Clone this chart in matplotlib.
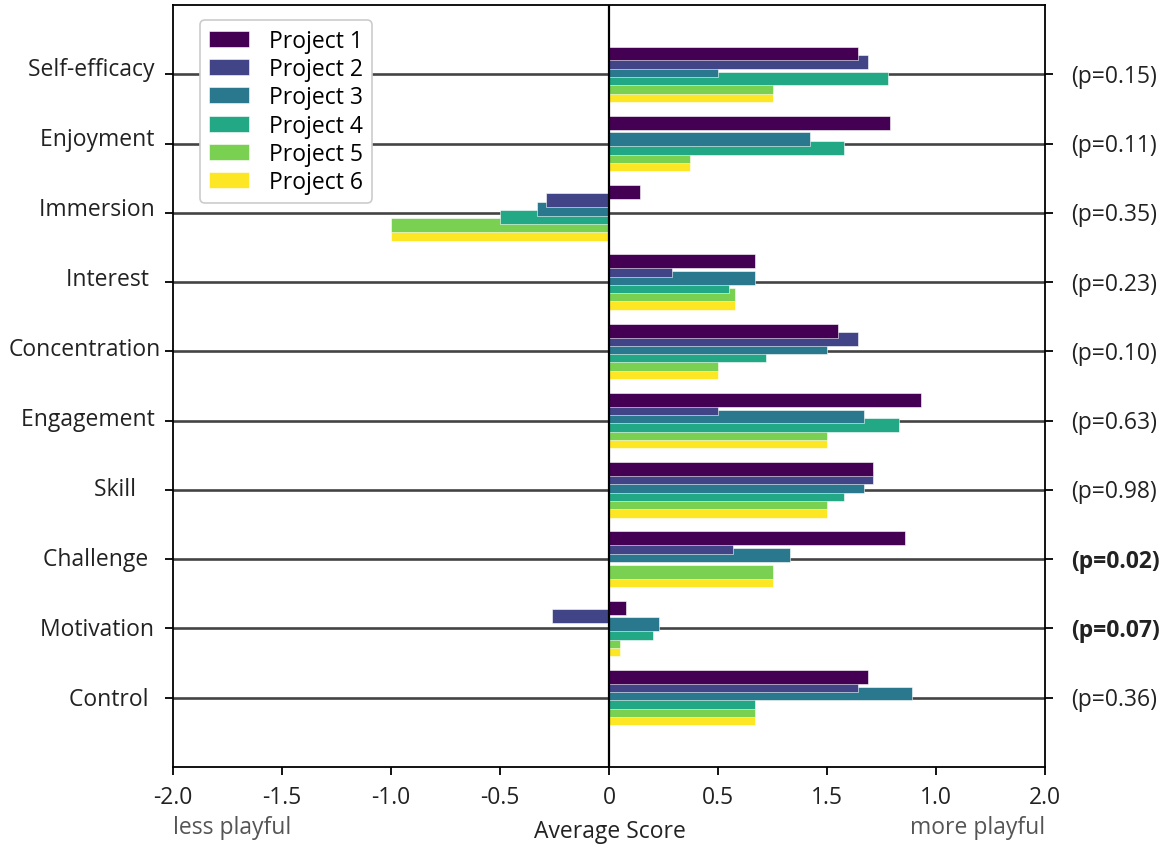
import numpy as np
import matplotlib
matplotlib.use("Agg")
import matplotlib.pyplot as plt
from matplotlib.transforms import ScaledTranslation

plt.rcParams['font.family'] = ['Open Sans', 'DejaVu Sans']

# categories top to bottom (trailing spaces kept as in the original labels)
categories = ["Self-efficacy ", "Enjoyment ", "Immersion ", "Interest  ", "Concentration",
              "Engagement ", "Skill    ", "Challenge  ", "Motivation ", "Control  "]
p_values = ["(p=0.15)", "(p=0.11)", "(p=0.35)", "(p=0.23)", "(p=0.10)",
            "(p=0.63)", "(p=0.98)", "(p=0.02)", "(p=0.07)", "(p=0.36)"]
significant = [False, False, False, False, False, False, False, True, True, False]

project_names = ["Project 1", "Project 2", "Project 3", "Project 4", "Project 5", "Project 6"]
project_1 = [1.14, 1.29, 0.14, 0.67, 1.05, 1.43, 1.21, 1.36, 0.08, 1.19]
project_2 = [1.19, 0.00, -0.29, 0.29, 1.14, 0.50, 1.21, 0.57, -0.26, 1.14]
project_3 = [0.50, 0.92, -0.33, 0.67, 1.00, 1.17, 1.17, 0.83, 0.23, 1.39]
project_4 = [1.28, 1.08, -0.50, 0.55, 0.72, 1.33, 1.08, 0.00, 0.20, 0.67]
project_5 = [0.75, 0.37, -1.00, 0.58, 0.50, 1.00, 1.00, 0.75, 0.05, 0.67]
project_6 = [0.75, 0.37, -1.00, 0.58, 0.50, 1.00, 1.00, 0.75, 0.05, 0.67]
projects = [project_1, project_2, project_3, project_4, project_5, project_6]

x_ticks = [-2.0, -1.5, -1.0, -0.5, 0.0, 0.5, 1.0, 1.5, 2.0]
x_tick_labels = ["-2.0", "-1.5", "-1.0", "-0.5", "0", "0.5", "1.5", "1.0", "2.0"]

colors = ['#440154', '#414487', '#2a788e', '#22a884', '#7ad151', '#fde725']
FS = 16.5

fig = plt.figure(figsize=(11.66, 8.45), dpi=100)
ax = fig.add_axes([173 / 1166, 1 - 768 / 845, 872 / 1166, 762 / 845])

rows = np.arange(len(categories))
bar_step = 0.12
bar_h = 0.2
for j, (name, vals) in enumerate(zip(project_names, projects)):
    ax.barh(rows + (j - 2.5) * bar_step, vals, height=bar_h, color=colors[j],
            edgecolor='white', linewidth=0.4, label=name, zorder=10 - j)

for r in rows:
    ax.axhline(r, color='#444444', linewidth=1.9, zorder=1)
ax.axvline(0, color='black', linewidth=1.6, zorder=20)

ax.set_xlim(-2.0, 2.0)
ax.set_ylim(10, -1)
ax.set_xticks(x_ticks)
ax.set_xticklabels(x_tick_labels)
ax.set_yticks(rows)
ax.set_yticklabels(categories)
ax.tick_params(axis='both', labelsize=FS, colors='black', labelcolor='#222222',
               width=1.3, length=6)
ax.tick_params(axis='y', pad=3)
ax.tick_params(axis='x', pad=7)
for s in ax.spines.values():
    s.set_linewidth(1.3)

# the left labels sit a little above their lines, more so towards the top
n = len(categories)
for i, lbl in enumerate(ax.get_yticklabels()):
    dy = (1.5 + (n - 1 - i) * 0.72) * 72 / fig.dpi
    lbl.set_transform(lbl.get_transform() + ScaledTranslation(0, dy / 72, fig.dpi_scale_trans))

ax2 = ax.twinx()
ax2.set_ylim(ax.get_ylim())
ax2.set_yticks(rows)
ax2.set_yticklabels(p_values)
ax2.tick_params(axis='y', labelsize=FS, labelcolor='#222222', width=1.3, length=6, pad=13)
for lbl, sig in zip(ax2.get_yticklabels(), significant):
    if sig:
        lbl.set_fontweight('bold')
    lbl.set_transform(lbl.get_transform() + ScaledTranslation(0, 1.5 / 100, fig.dpi_scale_trans))
for s in ax2.spines.values():
    s.set_visible(False)

leg = ax.legend(loc='upper left', bbox_to_anchor=(27 / 872, 1 - 15 / 762), borderaxespad=0,
                fontsize=FS, frameon=True, fancybox=True, framealpha=1,
                handlelength=1.75, handletextpad=0.85, labelspacing=0.18)
leg.get_frame().set_edgecolor('#cccccc')
leg.get_frame().set_linewidth(1.2)
leg.set_zorder(30)

fig.text(609.5 / 1166, 1 - 832 / 845, "Average Score", ha='center', va='center',
         fontsize=FS, color='#222222')
fig.text(173 / 1166, 1 - 828 / 845, "less playful", ha='left', va='center',
         fontsize=FS, color='#555555')
fig.text(1045 / 1166, 1 - 828 / 845, "more playful", ha='right', va='center',
         fontsize=FS, color='#555555')

fig.savefig("out.png", dpi=100)
